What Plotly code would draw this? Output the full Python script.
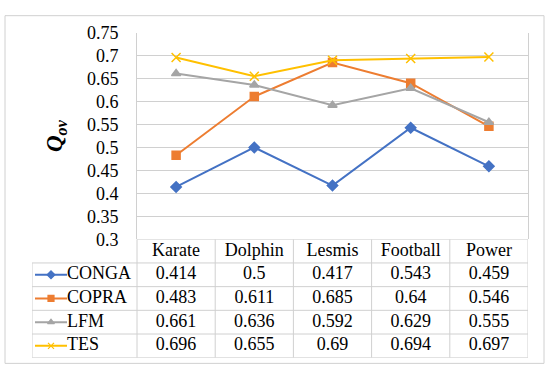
import plotly.graph_objects as go

categories = ["Karate", "Dolphin", "Lesmis", "Football", "Power"]
series_names = ["CONGA", "COPRA", "LFM", "TES"]
conga = [0.414, 0.5, 0.417, 0.543, 0.459]
copra = [0.483, 0.611, 0.685, 0.64, 0.546]
lfm = [0.661, 0.636, 0.592, 0.629, 0.555]
tes = [0.696, 0.655, 0.69, 0.694, 0.697]
y_ticks = [0.3, 0.35, 0.4, 0.45, 0.5, 0.55, 0.6, 0.65, 0.7, 0.75]

values = [conga, copra, lfm, tes]
colors = ["#4472C4", "#ED7D31", "#A5A5A5", "#FFC000"]
symbols = ["diamond", "square", "triangle-up", "x-thin-open"]
msizes = [8, 8, 8, 9]

W, H = 550, 380
FONT = "Liberation Serif"
FS = 18
GRID = "#d0d0d0"

# pixel layout
plot_l, plot_r, plot_t, plot_b = 137, 528, 24, 242
tab_l, tab_b = 32, 367
n = len(categories)
col_w = (plot_r - plot_l) / n
leg_left = -0.5 - (plot_l - tab_l) / col_w

fig = go.Figure()

idx = list(range(n))
for name, v, c, s, ms in zip(series_names, values, colors, symbols, msizes):
    fig.add_trace(go.Scatter(
        x=idx, y=v, mode="lines+markers", name=name,
        line=dict(color=c, width=2),
        marker=dict(symbol=s, size=ms, color=c, line=dict(color=c, width=1.5)),
        xaxis="x", yaxis="y", showlegend=False, hoverinfo="skip"))

# table text
for r, (name, v) in enumerate(zip(series_names, values)):
    fig.add_trace(go.Scatter(
        x=idx, y=[r + 1] * n, mode="text", text=[f"{x:g}" for x in v],
        textfont=dict(family=FONT, size=FS, color="#000"),
        xaxis="x2", yaxis="y2", showlegend=False, hoverinfo="skip"))
fig.add_trace(go.Scatter(
    x=idx, y=[0] * n, mode="text", text=categories,
    textfont=dict(family=FONT, size=FS, color="#000"),
    xaxis="x2", yaxis="y2", showlegend=False, hoverinfo="skip"))

# legend keys in first column
px2u = lambda px: leg_left + (px - tab_l) / col_w
for r, (name, c, s) in enumerate(zip(series_names, colors, symbols)):
    fig.add_trace(go.Scatter(
        x=[px2u(35), px2u(67)], y=[r + 1] * 2, mode="lines",
        line=dict(color=c, width=2),
        xaxis="x2", yaxis="y2", showlegend=False, hoverinfo="skip"))
    fig.add_trace(go.Scatter(
        x=[px2u(51)], y=[r + 1], mode="markers",
        marker=dict(symbol=s, size=6, color=c, line=dict(color=c, width=1.2)),
        xaxis="x2", yaxis="y2", showlegend=False, hoverinfo="skip"))
    fig.add_trace(go.Scatter(
        x=[px2u(67)], y=[r + 1], mode="text", text=[name], textposition="middle right",
        textfont=dict(family=FONT, size=FS, color="#000"),
        xaxis="x2", yaxis="y2", showlegend=False, hoverinfo="skip"))

shapes = []
# outer border
shapes.append(dict(type="rect", xref="paper", yref="paper",
                   x0=5 / W, x1=544 / W, y0=1 - 373 / H, y1=1 - 6 / H,
                   line=dict(color=GRID, width=1)))
# table borders
rows = len(series_names)
for k in range(rows + 2):
    yy = k - 0.5
    x0 = -0.5 if k == 0 else leg_left
    shapes.append(dict(type="line", xref="x2", yref="y2", x0=x0, x1=n - 0.5, y0=yy, y1=yy,
                       line=dict(color=GRID, width=1)))
for k in range(n + 1):
    xx = k - 0.5
    shapes.append(dict(type="line", xref="x2", yref="y2", x0=xx, x1=xx, y0=-0.5, y1=rows + 0.5,
                       line=dict(color=GRID, width=1)))
shapes.append(dict(type="line", xref="x2", yref="y2", x0=leg_left, x1=leg_left, y0=0.5, y1=rows + 0.5,
                   line=dict(color=GRID, width=1)))

fig.update_layout(
    width=W, height=H, margin=dict(l=0, r=0, t=0, b=0),
    paper_bgcolor="white", plot_bgcolor="white",
    font=dict(family=FONT, size=FS, color="#000"),
    shapes=shapes,
    xaxis=dict(domain=[plot_l / W, plot_r / W], range=[-0.5, n - 0.5],
               showgrid=False, showticklabels=False, zeroline=False, showline=False, fixedrange=True),
    yaxis=dict(domain=[1 - plot_b / H, 1 - plot_t / H], range=[0.3, 0.75],
               tickvals=y_ticks, ticktext=[f"{t:g}" for t in y_ticks],
               showgrid=True, gridcolor=GRID, gridwidth=1, zeroline=False,
               showline=True, mirror=True, linecolor=GRID, linewidth=1,
               ticks="outside", ticklen=14, tickcolor="rgba(0,0,0,0)",
               tickfont=dict(family=FONT, size=FS, color="#000"), fixedrange=True),
    xaxis2=dict(domain=[tab_l / W, plot_r / W], range=[leg_left, n - 0.5],
                visible=False, fixedrange=True),
    yaxis2=dict(domain=[1 - tab_b / H, 1 - plot_b / H], range=[rows + 0.5, -0.5],
                visible=False, fixedrange=True),
    annotations=[dict(xref="paper", yref="paper", x=40 / W, y=1 - 133 / H,
                      text="<b><i>Q</i></b><sub><b><i>ov</i></b></sub>", textangle=-90,
                      showarrow=False, font=dict(family=FONT, size=23, color="#000"))],
)

fig.write_html("out.html", config={"displayModeBar": False},
               post_script="document.body.style.margin='0px';document.body.style.overflow='hidden';")
